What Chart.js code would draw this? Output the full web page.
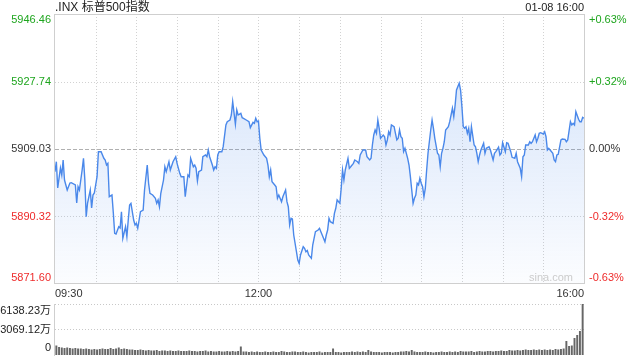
<!DOCTYPE html>
<html>
<head>
<meta charset="utf-8">
<script src="https://cdn.jsdelivr.net/npm/chart.js@4.4.1/dist/chart.umd.min.js"></script>
<style>
  body { margin: 0; background: #fff; width: 640px; height: 360px; overflow: hidden; position: relative; }
  #price { position: absolute; left: 0; top: 0; }
  #vol { position: absolute; left: 0; top: 300px; }
</style>
</head>
<body>
<canvas id="price" width="640" height="300"></canvas>
<canvas id="vol" width="640" height="60"></canvas>
<script>
const titleText = '.INX 标普500指数';
const stampText = '01-08 16:00';
const priceTicks = [5946.46, 5927.74, 5909.03, 5890.32, 5871.60];
const pctTicks = ['+0.63%', '+0.32%', '0.00%', '-0.32%', '-0.63%'];
const timeTicks = { 0: '09:30', 150: '12:00', 390: '16:00' };
const volTicks = [6138.23, 3069.12, 0];
const volTickLabels = ['6138.23万', '3069.12万', '0'];

// minutes after 09:30
const minutes = [
  0,1,2,4,5,6,7,9,11,12,
  15,16,17,18,20,21,22,23,24,26,
  27,28,29,31,32,34,36,37,38,39,
  40,42,43,44,45,47,48,49,50,52,
  53,54,55,56,58,59,60,61,62,63,
  65,66,68,69,70,72,74,75,76,77,
  78,80,81,82,84,85,87,89,90,92,
  93,95,96,98,99,100,102,103,104,105,
  106,108,109,111,112,113,114,116,117,118,
  119,120,121,123,124,126,127,129,130,131,
  133,134,135,137,138,139,141,143,144,146,
  147,148,149,150,151,152,154,156,157,158,
  159,160,162,163,164,165,167,168,170,171,
  172,173,174,175,176,178,179,180,181,183,
  184,185,186,187,189,190,191,192,194,195,
  196,197,199,200,201,202,203,205,206,207,
  208,210,211,212,213,214,216,217,218,220,
  221,223,224,225,227,229,230,232,233,234,
  235,236,237,238,239,240,242,243,244,245,
  246,247,248,250,251,252,253,254,255,256,
  257,258,260,261,262,263,264,265,266,267,
  268,269,270,271,272,273,274,275,277,278,
  279,280,282,283,284,285,286,287,288,290,
  291,293,294,295,296,298,299,300,301,302,
  303,304,305,306,307,309,310,311,312,313,
  314,316,317,318,320,321,323,324,325,327,
  328,329,330,332,333,334,336,337,339,340,
  341,343,344,345,346,347,349,350,351,352,
  354,355,356,357,358,360,361,362,363,364,
  365,367,368,369,370,371,373,374,376,377,
  378,380,381,382,383,384,386,387,388,389,390
];

const prices = [
  5902.74,5905.51,5898.22,5903.76,5901.82,5905.98,5900.43,5897.66,5899.60,5899.69,
  5899.05,5894.06,5898.58,5897.66,5903.21,5906.45,5900.43,5890.26,5894.06,5897.66,
  5892.67,5896.27,5896.83,5901.35,5908.28,5908.28,5906.45,5905.98,5904.59,5905.06,
  5895.80,5896.27,5891.28,5885.65,5885.46,5887.48,5887.12,5891.64,5884.27,5887.48,
  5884.71,5889.34,5893.50,5893.97,5889.34,5887.96,5888.43,5887.04,5889.34,5891.64,
  5892.11,5897.66,5904.59,5899.52,5896.75,5896.27,5895.36,5893.97,5894.89,5893.03,
  5896.75,5900.43,5904.12,5902.74,5905.51,5903.21,5905.51,5906.89,5905.06,5902.29,
  5901.35,5901.35,5895.80,5901.82,5901.35,5906.45,5904.12,5904.59,5903.68,5900.16,
  5902.74,5903.21,5906.89,5907.37,5906.89,5908.75,5906.89,5904.59,5903.21,5904.12,
  5903.68,5907.37,5908.28,5908.28,5909.67,5915.69,5916.60,5917.07,5918.46,5922.15,
  5915.88,5919.84,5918.46,5918.93,5917.71,5917.54,5917.07,5916.60,5914.94,5916.43,
  5916.16,5917.54,5916.60,5916.79,5912.00,5908.75,5907.37,5906.45,5904.59,5901.35,
  5903.21,5899.96,5899.05,5898.58,5895.36,5896.27,5894.42,5895.80,5897.66,5894.42,
  5893.03,5887.96,5889.81,5889.62,5885.18,5880.55,5878.25,5877.33,5879.64,5881.94,
  5881.49,5880.55,5880.90,5879.64,5878.72,5882.41,5884.27,5886.10,5886.57,5887.04,
  5886.10,5885.18,5883.32,5885.18,5886.57,5889.81,5888.87,5888.43,5891.20,5892.59,
  5894.89,5893.97,5898.13,5903.21,5900.43,5903.21,5906.45,5903.68,5904.12,5905.06,
  5905.98,5905.51,5905.06,5907.37,5908.75,5908.75,5906.89,5905.98,5906.45,5910.14,
  5912.91,5914.30,5913.38,5917.07,5914.77,5912.00,5912.91,5912.44,5910.14,5911.53,
  5913.83,5912.91,5915.69,5915.21,5913.38,5911.53,5912.00,5914.30,5912.44,5912.00,
  5908.28,5909.22,5906.45,5904.59,5901.35,5897.66,5893.97,5895.36,5896.27,5899.52,
  5899.05,5900.91,5899.52,5898.58,5895.80,5898.13,5903.21,5907.84,5914.30,5917.07,
  5914.77,5912.00,5907.84,5907.37,5904.12,5907.84,5909.22,5911.05,5914.30,5915.21,
  5916.60,5920.32,5917.99,5921.23,5925.39,5927.25,5925.39,5920.76,5915.21,5914.77,
  5915.21,5913.38,5914.77,5911.05,5915.21,5910.14,5909.67,5907.84,5905.51,5907.37,
  5908.75,5910.61,5907.84,5909.22,5909.67,5908.75,5905.98,5907.84,5908.28,5909.50,
  5907.37,5907.84,5910.78,5908.28,5910.78,5910.61,5908.28,5906.73,5906.45,5907.84,
  5905.51,5903.68,5901.35,5906.89,5907.37,5910.14,5910.14,5911.05,5910.61,5911.05,
  5912.91,5911.05,5912.00,5913.38,5913.55,5913.19,5913.83,5912.44,5908.75,5909.22,
  5908.75,5907.84,5905.98,5905.51,5907.37,5907.56,5911.53,5911.80,5911.72,5911.05,
  5911.53,5916.60,5915.69,5916.16,5915.69,5919.37,5917.27,5916.60,5916.60,5917.82,5917.54
];

// volume per 2-minute bar, in 万
const volumes = [
  1143,963,903,843,903,843,782,843,782,782,722,782,722,662,722,662,
  722,782,722,722,843,722,782,903,722,782,722,662,662,602,602,662,
  602,542,602,542,542,602,481,542,542,481,542,481,481,542,481,481,
  481,542,481,481,421,481,481,542,421,481,421,421,481,421,421,481,
  421,481,421,481,1023,421,421,361,421,361,421,361,361,421,361,361,
  421,361,361,481,421,361,361,421,421,361,361,421,361,301,361,361,
  361,421,301,361,361,361,783,361,361,301,361,361,361,421,361,421,
  361,421,361,602,421,361,361,361,301,361,361,361,301,361,361,421,
  421,481,421,602,421,361,361,361,421,361,361,301,361,361,421,361,
  361,421,361,421,361,481,421,421,421,481,361,421,481,421,421,481,
  481,421,481,481,542,481,481,602,542,542,602,542,602,662,602,602,
  662,602,662,602,662,602,662,602,722,662,722,782,1685,1083,1143,2046,2407,2889,6138.23
];

const FONT = "'Liberation Sans', 'Noto Sans CJK SC', Arial, sans-serif";
const GREEN = '#1ea51e';
const RED = '#ee2b2b';
const tickColors = [GREEN, GREEN, '#333', RED, RED];

function hline(ctx, x1, x2, y) {
  ctx.beginPath(); ctx.moveTo(x1, y); ctx.lineTo(x2, y); ctx.stroke();
}
function vline(ctx, x, y1, y2) {
  ctx.beginPath(); ctx.moveTo(x, y1); ctx.lineTo(x, y2); ctx.stroke();
}
function text(ctx, s, x, y, align, color, size) {
  ctx.font = (size || 11) + 'px ' + FONT;
  ctx.fillStyle = color;
  ctx.textAlign = align;
  ctx.textBaseline = 'middle';
  ctx.fillText(s, x, y);
}

const priceDeco = {
  id: 'priceDeco',
  beforeDatasetsDraw(chart) {
    const { ctx, chartArea: a, scales: { x, y } } = chart;
    ctx.save();
    ctx.lineWidth = 1;
    ctx.strokeStyle = '#d2d2d2';
    ctx.setLineDash([1, 2]);
    for (let m = 30; m < 390; m += 30) {
      vline(ctx, Math.round(x.getPixelForValue(m)) + 0.5, a.top, a.bottom);
    }
    priceTicks.forEach((v, i) => {
      if (i === 0 || i === priceTicks.length - 1) return;
      const py = Math.round(y.getPixelForValue(v)) + 0.5;
      if (i === 2) { ctx.strokeStyle = '#b0b0b0'; ctx.setLineDash([4, 2]); }
      else { ctx.strokeStyle = '#d2d2d2'; ctx.setLineDash([1, 2]); }
      hline(ctx, a.left, a.right, py);
    });
    ctx.restore();
  },
  afterDatasetsDraw(chart) {
    const { ctx, chartArea: a } = chart;
    ctx.save();
    ctx.strokeStyle = '#cfcfcf';
    ctx.lineWidth = 1;
    ctx.strokeRect(Math.round(a.left) - 0.5, Math.round(a.top) + 0.5,
                   Math.round(a.width) + 1, Math.round(a.height) - 1);
    ctx.restore();
  },
  afterDraw(chart) {
    const { ctx, chartArea: a, scales: { y } } = chart;
    ctx.save();
    text(ctx, titleText, a.left, 8, 'left', '#222', 12);
    text(ctx, stampText, a.right, 8, 'right', '#222', 11);
    priceTicks.forEach((v, i) => {
      let py = y.getPixelForValue(v);
      if (i === 0) py += 6;
      if (i === priceTicks.length - 1) py -= 6;
      text(ctx, v.toFixed(2), a.left - 4, py, 'right', tickColors[i], 11);
      text(ctx, pctTicks[i], a.right + 5, py, 'left', tickColors[i], 11);
    });
    text(ctx, 'sina.com', a.right - 11, a.bottom - 6, 'right', '#cccccc', 11);
    ctx.restore();
  }
};

new Chart(document.getElementById('price'), {
  type: 'line',
  data: {
    datasets: [{
      data: minutes.map((m, i) => ({ x: m, y: prices[i] })),
      borderColor: '#4a88ea',
      borderWidth: 1.4,
      pointRadius: 0,
      tension: 0,
      fill: 'start',
      backgroundColor: (c) => {
        const a = c.chart.chartArea;
        if (!a) return 'rgba(74,136,234,0.1)';
        const g = c.chart.ctx.createLinearGradient(0, a.top + 70, 0, a.bottom);
        g.addColorStop(0, 'rgba(74,136,234,0.2)');
        g.addColorStop(1, 'rgba(74,136,234,0.02)');
        return g;
      }
    }]
  },
  options: {
    responsive: false,
    animation: false,
    layout: { padding: { left: 55, right: 56, top: 14, bottom: 0 } },
    plugins: { legend: { display: false }, tooltip: { enabled: false } },
    scales: {
      x: {
        type: 'linear',
        min: 0,
        max: 390,
        grid: { display: false, drawTicks: false },
        border: { display: false },
        ticks: {
          stepSize: 30,
          autoSkip: false,
          maxRotation: 0,
          align: 'inner',
          padding: 3,
          color: '#333',
          font: { family: FONT, size: 11 },
          callback: (v) => timeTicks[v] || ''
        },
        afterFit: (s) => { s.height = 16; }
      },
      y: {
        display: false,
        min: priceTicks[priceTicks.length - 1],
        max: priceTicks[0]
      }
    }
  },
  plugins: [priceDeco]
});

const volDeco = {
  id: 'volDeco',
  beforeDatasetsDraw(chart) {
    const { ctx, chartArea: a, scales: { y } } = chart;
    ctx.save();
    ctx.lineWidth = 1;
    ctx.strokeStyle = '#c8c8c8';
    ctx.setLineDash([1, 2]);
    hline(ctx, a.left, a.right, Math.round(y.getPixelForValue(volTicks[0])) + 0.5);
    hline(ctx, a.left, a.right, Math.round(y.getPixelForValue(volTicks[1])) + 0.5);
    ctx.setLineDash([]);
    ctx.strokeStyle = '#cfcfcf';
    vline(ctx, Math.round(a.left) - 0.5, a.top, a.bottom + 1);
    ctx.restore();
  },
  afterDraw(chart) {
    const { ctx, chartArea: a, scales: { y } } = chart;
    ctx.save();
    volTicks.forEach((v, i) => {
      let py = y.getPixelForValue(v);
      if (i === 0) py += 7;
      if (i === volTicks.length - 1) py -= 7;
      text(ctx, volTickLabels[i], a.left - 4, py, 'right', '#222', 11);
    });
    ctx.restore();
  }
};

new Chart(document.getElementById('vol'), {
  type: 'bar',
  data: {
    labels: volumes.map((_, i) => i),
    datasets: [{
      data: volumes,
      backgroundColor: '#666',
      barPercentage: 0.72,
      categoryPercentage: 1
    }]
  },
  options: {
    responsive: false,
    animation: false,
    layout: { padding: { left: 55, right: 56, top: 4, bottom: 5 } },
    plugins: { legend: { display: false }, tooltip: { enabled: false } },
    scales: {
      x: { display: false },
      y: { display: false, min: 0, max: volTicks[0] }
    }
  },
  plugins: [volDeco]
});
</script>
</body>
</html>
